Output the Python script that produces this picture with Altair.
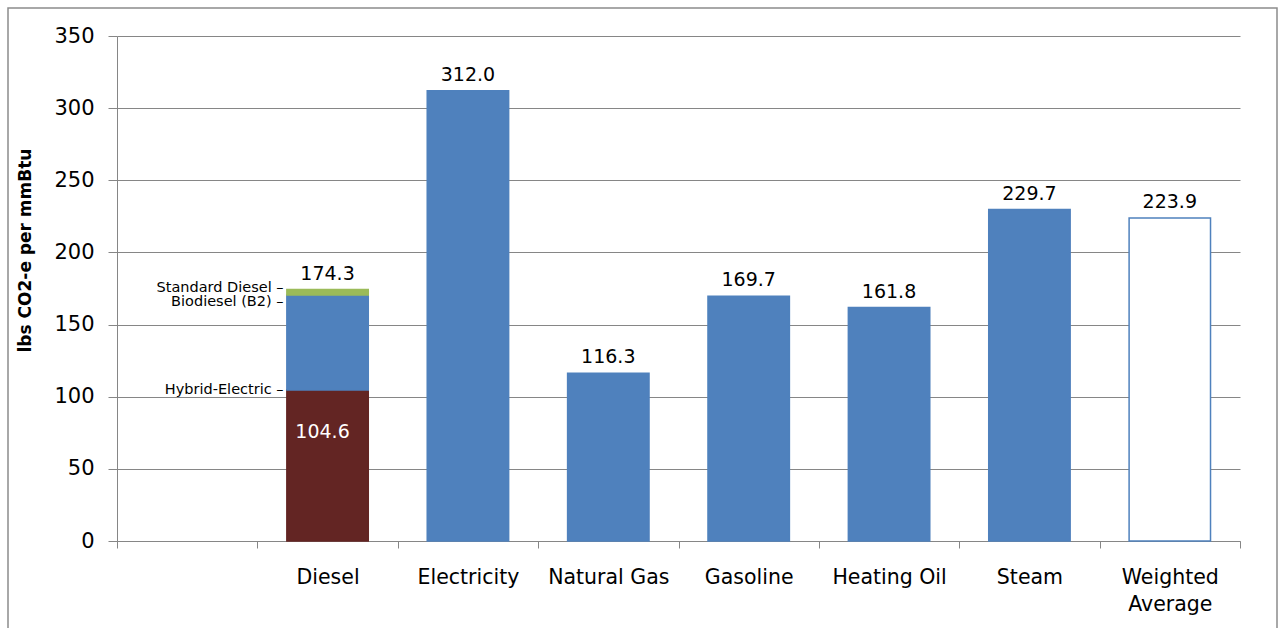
import altair as alt
import pandas as pd

FONT = "DejaVu Sans"

categories = [" ", "Diesel", "Electricity", "Natural Gas", "Gasoline",
              "Heating Oil", "Steam", "Weighted Average"]

# single bars
bar_cats = ["Electricity", "Natural Gas", "Gasoline", "Heating Oil", "Steam", "Weighted Average"]
bar_vals = [312.0, 116.3, 169.7, 161.8, 229.7, 223.9]

# Diesel stack segments
seg_names = ["Hybrid-Electric", "Biodiesel (B2)", "Standard Diesel"]
seg_start = [0.0, 104.6, 170.5]
seg_end = [104.6, 170.5, 174.3]
seg_colors = ["#632523", "#4F81BD", "#9BBB59"]

# top value labels
label_cats = ["Diesel", "Electricity", "Natural Gas", "Gasoline", "Heating Oil", "Steam", "Weighted Average"]
label_vals = [174.3, 312.0, 116.3, 169.7, 161.8, 229.7, 223.9]

BLUE = "#4F81BD"

rows = []
for n, s, e, c in zip(seg_names, seg_start, seg_end, seg_colors):
    rows.append({"cat": "Diesel", "y0": s, "y1": e, "fill": c, "stroke": c})
for c, v in zip(bar_cats, bar_vals):
    fill = "#ffffff" if c == "Weighted Average" else BLUE
    rows.append({"cat": c, "y0": 0.0, "y1": v, "fill": fill, "stroke": BLUE})
bars_df = pd.DataFrame(rows)

labels_df = pd.DataFrame({"cat": label_cats, "v": label_vals,
                          "txt": [f"{v:.1f}" for v in label_vals]})
inner_df = pd.DataFrame({"cat": ["Diesel"], "v": [seg_end[0]], "txt": [f"{seg_end[0]:.1f}"]})

xscale = alt.Scale(domain=categories, paddingInner=0, paddingOuter=0)
yscale = alt.Scale(domain=[0, 350])
X = alt.X("cat:N", scale=xscale, sort=categories)
Y = alt.Y("v:Q", scale=yscale)

x_enc = alt.X("cat:N", scale=xscale, sort=categories, title=None,
              axis=alt.Axis(tickBand="extent", labelAngle=0, tickSize=7,
                            labelPadding=19, labelBaseline="top",
                            labelLineHeight=27,
                            labelExpr="datum.value == 'Weighted Average' ? ['Weighted', 'Average'] : datum.value",
                            domainColor="#868686", tickColor="#868686",
                            labelFontSize=20.5, labelFont=FONT, labelColor="#000000"))

bars = alt.Chart(bars_df).mark_bar(strokeWidth=1.5, width=alt.RelativeBandSize(0.58)).encode(
    x=x_enc,
    y=alt.Y("y0:Q", scale=yscale, title="lbs CO2-e per mmBtu",
            axis=alt.Axis(values=[0, 50, 100, 150, 200, 250, 300, 350],
                          tickSize=9, grid=True, gridColor="#868686",
                          domainColor="#868686", tickColor="#868686",
                          labelFontSize=21, labelFont=FONT, labelColor="#000000",
                          labelPadding=14,
                          titleFont=FONT, titleFontSize=17, titleFontWeight="bold",
                          titleColor="#000000", titleAngle=270,
                          titleX=-92, titleY=214, titleAlign="center",
                          titleBaseline="middle")),
    y2="y1:Q",
    fill=alt.Fill("fill:N", scale=None),
    stroke=alt.Stroke("stroke:N", scale=None),
)

top_labels = alt.Chart(labels_df).mark_text(
    baseline="bottom", dy=-6, fontSize=19, font=FONT, color="#000000"
).encode(x=X, y=Y, text="txt:N")

inner_label = alt.Chart(inner_df).mark_text(
    baseline="middle", dy=42, dx=-5, fontSize=19, font=FONT, color="#ffffff"
).encode(x=X, y=Y, text="txt:N")

seg_layers = []
for name, top, shift in zip(seg_names, seg_end, [0, 7, -2]):
    d = pd.DataFrame({"cat": ["Diesel"], "v": [top], "txt": [name + " \u2013"]})
    seg_layers.append(alt.Chart(d).mark_text(
        align="right", baseline="middle", dx=-44, dy=shift, fontSize=14.5,
        font=FONT, color="#000000"
    ).encode(x=X, y=Y, text="txt:N"))

frame = alt.Chart(pd.DataFrame({"a": [0]})).mark_rect(
    fill=None, stroke="#8c8c8c", strokeWidth=1.5
).encode(x=alt.value(-109), x2=alt.value(1160), y=alt.value(-28), y2=alt.value(640))

chart = alt.layer(frame, bars, top_labels, inner_label, *seg_layers).properties(
    width=1123, height=505,
    autosize=alt.AutoSizeParams(type="none"),
    padding={"left": 117, "top": 36, "right": 38, "bottom": 87},
    background="#ffffff",
).configure_view(stroke=None)

chart.save("out.html", embed_options={"renderer": "svg", "actions": False})
